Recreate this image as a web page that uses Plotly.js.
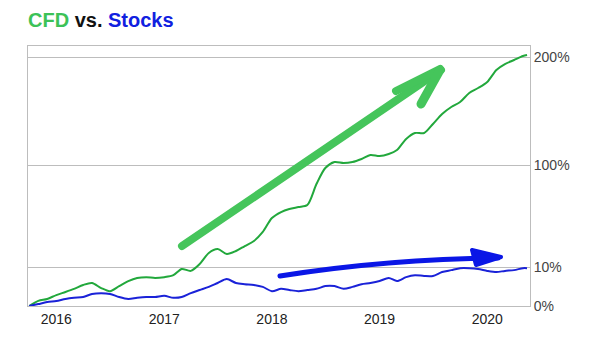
<!DOCTYPE html>
<html>
<head>
<meta charset="utf-8">
<script src="https://cdn.plot.ly/plotly-3.0.1.min.js"></script>
<style>
  html, body { margin: 0; padding: 0; background: #fff; }
  #chart { width: 600px; height: 338px; }
  .shapelayer path { stroke-linecap: round; stroke-linejoin: round; }
</style>
</head>
<body>
<div id="chart"></div>
<script>
// ---- data (percent return since start) ----
const dates = ["2015-10-01","2015-11-01","2015-12-01","2016-01-01","2016-02-01","2016-03-01","2016-04-01","2016-05-01","2016-06-01","2016-07-01","2016-08-01","2016-09-01","2016-10-01","2016-11-01","2016-12-01","2017-01-01","2017-02-01","2017-03-01","2017-04-01","2017-05-01","2017-06-01","2017-07-01","2017-08-01","2017-09-01","2017-10-01","2017-11-01","2017-12-01","2018-01-01","2018-02-01","2018-03-01","2018-04-01","2018-05-01","2018-06-01","2018-07-01","2018-08-01","2018-09-01","2018-10-01","2018-11-01","2018-12-01","2019-01-01","2019-02-01","2019-03-01","2019-04-01","2019-05-01","2019-06-01","2019-07-01","2019-08-01","2019-09-01","2019-10-01","2019-11-01","2019-12-01","2020-01-01","2020-02-01","2020-03-01","2020-04-01","2020-05-01","2020-05-15"];
const cfd = [0,1.3,1.8,2.8,3.6,4.4,5.4,5.9,4.6,3.8,5.1,6.4,7.2,7.4,7.2,7.4,7.9,9.5,9.0,12.6,22.4,25.9,21.5,24.1,28.5,32.9,40.9,53.2,58.5,61.2,62.9,64.7,83.2,97.4,102.8,101.9,102.8,105.6,109.3,108.3,110.2,113.9,124.1,129.6,129.6,138,147.2,153.7,158.3,166.7,171.3,176.9,188,193.5,197.2,200.9,201.9];
const stocks = [0,0.5,1.0,1.3,1.8,2.1,2.3,3.1,3.3,3.1,2.3,1.8,2.1,2.3,2.3,2.6,2.1,2.3,3.3,4.1,4.9,5.9,6.9,5.9,5.6,5.4,4.9,3.8,4.4,4.1,3.8,4.1,4.4,5.1,5.1,4.4,4.9,5.6,5.9,6.4,7.2,6.4,7.4,7.9,7.7,7.7,8.7,9.2,9.7,9.7,9.5,9.0,8.7,9.0,9.2,9.7,9.7];
const yTickValues = [0, 10, 100, 200];
const yTickLabels = ["0%", "10%", "100%", "200%"];
const xTickValues = ["2016-01-01","2017-01-01","2018-01-01","2019-01-01","2020-01-01"];
const xTickLabels = ["2016","2017","2018","2019","2020"];

// piecewise axis scale used by the original chart (0-10 expanded, 10-100, 100-200)
function scale(p) {
  if (p <= 10) return p * 3.9;
  if (p <= 100) return 39 + (p - 10) * 102 / 90;
  return 141 + (p - 100) * 1.08;
}

const green = '#22a83c';
const blue = '#1a22d8';

const traces = [
  { x: dates, y: cfd.map(scale), type: 'scatter', mode: 'lines',
    line: { color: green, width: 2, shape: 'spline', smoothing: 0.8 }, hoverinfo: 'skip' },
  { x: dates, y: stocks.map(scale), type: 'scatter', mode: 'lines',
    line: { color: blue, width: 2, shape: 'spline', smoothing: 0.8 }, hoverinfo: 'skip' }
];

const gridC = '#bdbdbd';
const layout = {
  width: 600, height: 338,
  margin: { l: 28, r: 70, t: 46, b: 32 },
  paper_bgcolor: '#fff', plot_bgcolor: '#fff',
  showlegend: false,
  font: { family: 'Arial, "Liberation Sans", sans-serif', size: 14, color: '#222' },
  title: {
    text: '<span style="color:#3cc257">CFD</span> vs. <span style="color:#1020e0">Stocks</span>',
    font: { family: 'Arial, "Liberation Sans", sans-serif', size: 20, color: '#111', weight: 'bold' },
    xref: 'paper', x: 0, xanchor: 'left',
    yref: 'container', y: 1 - 20/338, yanchor: 'middle'
  },
  xaxis: {
    type: 'date', range: ['2015-09-27', '2020-05-25'],
    tickvals: xTickValues, ticktext: xTickLabels,
    showgrid: false, zeroline: false, ticks: '',
    showline: true, mirror: true, linecolor: gridC, linewidth: 1,
    tickfont: { size: 14, color: '#222' }
  },
  yaxis: {
    range: [0, 260], side: 'right',
    tickvals: yTickValues.map(scale), ticktext: yTickLabels,
    showgrid: true, gridcolor: gridC, gridwidth: 1, zeroline: false, ticks: '',
    showline: true, mirror: true, linecolor: gridC, linewidth: 1,
    tickfont: { size: 14, color: '#444' }
  },
  shapes: [
    // green hand-drawn arrow (paper coords)
    { type: 'path', xref: 'paper', yref: 'paper',
      path: 'M 0.3068 0.2308 L 0.8227 0.9077',
      line: { color: '#45c55b', width: 8 } },
    { type: 'path', xref: 'paper', yref: 'paper',
      path: 'M 0.7331 0.8269 L 0.8207 0.9115',
      line: { color: '#45c55b', width: 8 } },
    { type: 'path', xref: 'paper', yref: 'paper',
      path: 'M 0.7829 0.7769 L 0.8207 0.9077',
      line: { color: '#45c55b', width: 9 } },
    // blue curved arrow
    { type: 'path', xref: 'paper', yref: 'paper',
      path: 'M 0.5020 0.1154 Q 0.7171 0.1808 0.9363 0.1846',
      line: { color: '#0a16e6', width: 5 } },
    { type: 'path', xref: 'paper', yref: 'paper',
      path: 'M 0.8845 0.2154 L 0.9422 0.1885 L 0.8924 0.1577 Z',
      fillcolor: '#0a16e6',
      line: { color: '#0a16e6', width: 4 } }
  ]
};

Plotly.newPlot('chart', traces, layout, { displayModeBar: false, staticPlot: true });
</script>
</body>
</html>
